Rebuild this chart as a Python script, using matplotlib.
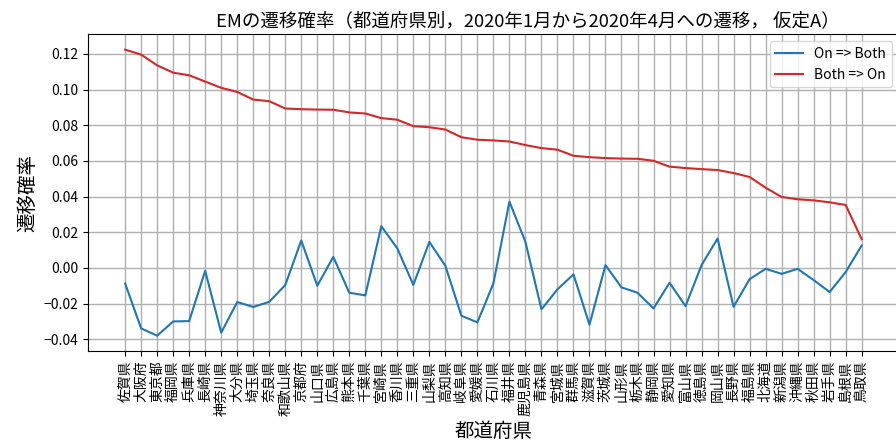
import numpy as np
import matplotlib
matplotlib.use("Agg")
import matplotlib.pyplot as plt

plt.rcParams['font.family'] = ['Noto Sans CJK JP', 'DejaVu Sans']
plt.rcParams['axes.unicode_minus'] = True

prefs = ['佐賀県', '大阪府', '東京都', '福岡県', '兵庫県', '長崎県', '神奈川県', '大分県',
         '埼玉県', '奈良県', '和歌山県', '京都府', '山口県', '広島県', '熊本県', '千葉県',
         '宮崎県', '香川県', '三重県', '山梨県', '高知県', '岐阜県', '愛媛県', '石川県',
         '福井県', '鹿児島県', '青森県', '宮城県', '群馬県', '滋賀県', '茨城県', '山形県',
         '栃木県', '静岡県', '愛知県', '富山県', '徳島県', '岡山県', '長野県', '福島県',
         '北海道', '新潟県', '沖縄県', '秋田県', '岩手県', '島根県', '鳥取県']

# On => Both
on_both = [-0.0087, -0.0339, -0.0380, -0.0300, -0.0298, -0.0016, -0.0363, -0.0191,
           -0.0219, -0.0190, -0.0096, 0.0154, -0.0100, 0.0062, -0.0139, -0.0154,
           0.0234, 0.0109, -0.0095, 0.0146, 0.0012, -0.0268, -0.0305, -0.0087,
           0.0372, 0.0146, -0.0232, -0.0120, -0.0036, -0.0318, 0.0016, -0.0109,
           -0.0139, -0.0227, -0.0083, -0.0214, 0.0016, 0.0165, -0.0218, -0.0063,
           -0.0005, -0.0033, -0.0005, -0.0068, -0.0135, -0.0023, 0.0126]

# Both => On
both_on = [0.1224, 0.1196, 0.1136, 0.1095, 0.1080, 0.1045, 0.1010, 0.0987,
           0.0944, 0.0935, 0.0894, 0.0890, 0.0888, 0.0887, 0.0872, 0.0866,
           0.0840, 0.0831, 0.0795, 0.0789, 0.0776, 0.0733, 0.0719, 0.0715,
           0.0709, 0.0689, 0.0672, 0.0663, 0.0629, 0.0621, 0.0616, 0.0613,
           0.0612, 0.0601, 0.0568, 0.0560, 0.0554, 0.0549, 0.0532, 0.0510,
           0.0450, 0.0398, 0.0385, 0.0379, 0.0368, 0.0353, 0.0161]

x = np.arange(len(prefs))

fig = plt.figure(figsize=(8.96, 4.46), dpi=100)
ax = fig.add_axes([88.3 / 896, (446 - 350.7) / 446, (898.5 - 88.3) / 896, (350.7 - 34.3) / 446])

ax.plot(x, on_both, color='#1f77b4', linewidth=1.5, label='On => Both')
ax.plot(x, both_on, color='#d62728', linewidth=1.5, label='Both => On')

ax.set_xticks(x)
ax.set_xticklabels(prefs, rotation=90, fontsize=10)
ax.set_yticks([-0.04, -0.02, 0.0, 0.02, 0.04, 0.06, 0.08, 0.10, 0.12])
ax.set_yticklabels(['−0.04', '−0.02', '0.00', '0.02', '0.04', '0.06', '0.08', '0.10', '0.12'], fontsize=10)
ax.set_ylim(-0.0464, 0.131)
ax.grid(True, color='#b0b0b0', linewidth=1.0)

ax.set_title('EMの遷移確率（都道府県別，2020年1月から2020年4月への遷移， 仮定A）',
             fontsize=13.3, x=0.542)
ax.set_ylabel('遷移確率', fontsize=14)
ax.set_xlabel('都道府県', fontsize=14)
ax.legend(loc='upper right')

fig.savefig('out.png', dpi=100)
